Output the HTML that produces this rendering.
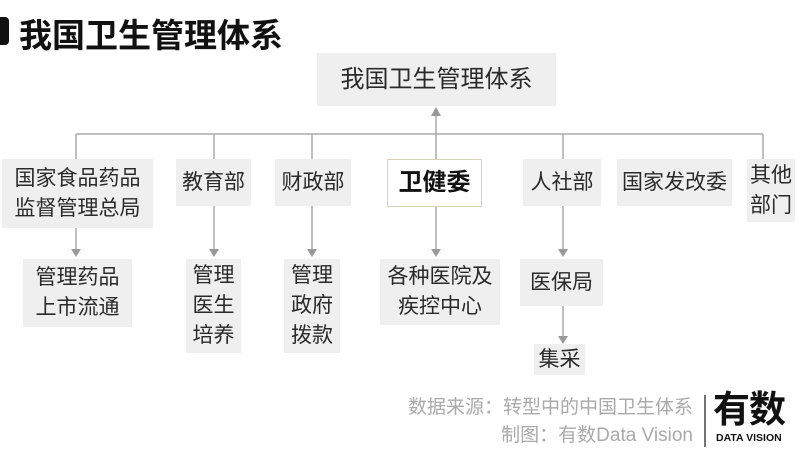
<!DOCTYPE html>
<html><head><meta charset="utf-8"><style>
*{margin:0;padding:0;box-sizing:border-box}
body{width:800px;height:461px;background:#fff;position:relative;overflow:hidden;font-family:"Liberation Sans","Noto Sans CJK SC",sans-serif;color:#222}
.b{position:absolute;background:#efefef;display:flex;align-items:center;justify-content:center;text-align:center;font-size:21px;line-height:30px;color:#2a2a2a;white-space:nowrap}
svg{position:absolute;left:0;top:0}
</style></head><body>
<div style="position:absolute;left:0;top:17px;width:9px;height:28px;background:#111;border-radius:0 4px 4px 0"></div>
<div style="position:absolute;left:19px;top:9px;font-size:33px;font-weight:bold;color:#111;letter-spacing:0px">我国卫生管理体系</div>
<svg width="800" height="461">
<g stroke="#aaa" stroke-width="1.5" fill="none">
<line x1="76" y1="134" x2="763" y2="134"/>
<line x1="436" y1="134" x2="436" y2="114"/>
<line x1="76" y1="134" x2="76" y2="159"/>
<line x1="214" y1="134" x2="214" y2="159"/>
<line x1="312" y1="134" x2="312" y2="159"/>
<line x1="436" y1="134" x2="436" y2="159"/>
<line x1="563" y1="134" x2="563" y2="159"/>
<line x1="763" y1="134" x2="763" y2="159"/>
<line x1="76" y1="228" x2="76" y2="250"/>
<line x1="214" y1="206" x2="214" y2="250"/>
<line x1="312" y1="206" x2="312" y2="250"/>
<line x1="436" y1="206" x2="436" y2="250"/>
<line x1="563" y1="206" x2="563" y2="250"/>
<line x1="563" y1="306" x2="563" y2="337"/>
</g>
<g fill="#999">
<polygon points="431,116 441,116 436,107"/>
<polygon points="71,249 81,249 76,257"/>
<polygon points="209,249 219,249 214,257"/>
<polygon points="307,249 317,249 312,257"/>
<polygon points="431,249 441,249 436,257"/>
<polygon points="558,249 568,249 563,257"/>
<polygon points="558,336 568,336 563,344"/>
</g>
<line x1="705" y1="395" x2="705" y2="447" stroke="#444" stroke-width="1.5"/>
</svg>
<div class="b" style="left:317px;top:53px;width:239px;height:53px;font-size:24px">我国卫生管理体系</div>
<div class="b" style="left:2px;top:159px;width:151px;height:69px">国家食品药品<br>监督管理总局</div>
<div class="b" style="left:176px;top:159px;width:75px;height:47px">教育部</div>
<div class="b" style="left:275px;top:159px;width:76px;height:47px">财政部</div>
<div class="b" style="left:387px;top:159px;width:95px;height:48px;background:#fff;border:1px solid #d8d2b8;font-weight:bold;font-size:24px;color:#111">卫健委</div>
<div class="b" style="left:523px;top:159px;width:78px;height:47px">人社部</div>
<div class="b" style="left:617px;top:159px;width:115px;height:47px">国家发改委</div>
<div class="b" style="left:747px;top:159px;width:48px;height:63px">其他<br>部门</div>
<div class="b" style="left:23px;top:259px;width:109px;height:68px">管理药品<br>上市流通</div>
<div class="b" style="left:186px;top:259px;width:55px;height:94px">管理<br>医生<br>培养</div>
<div class="b" style="left:284px;top:259px;width:56px;height:94px">管理<br>政府<br>拨款</div>
<div class="b" style="left:380px;top:259px;width:120px;height:66px">各种医院及<br>疾控中心</div>
<div class="b" style="left:520px;top:259px;width:83px;height:47px">医保局</div>
<div class="b" style="left:534px;top:344px;width:51px;height:31px">集采</div>
<div style="position:absolute;right:107px;top:394px;font-size:19px;color:#aaa;text-align:right;line-height:28px;white-space:nowrap">数据来源：转型中的中国卫生体系<br>制图：有数Data Vision</div>
<div style="position:absolute;left:713px;top:390px;font-size:37px;font-weight:bold;color:#111;line-height:40px;letter-spacing:-1px">有数</div>
<div style="position:absolute;left:716px;top:432px;font-size:10.5px;font-weight:bold;color:#111">DATA VISION</div>
</body></html>
